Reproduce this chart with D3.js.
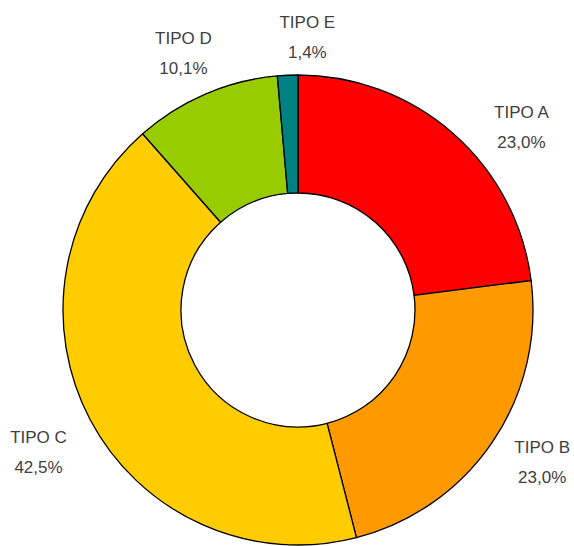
<!DOCTYPE html>
<html>
<head>
<meta charset="utf-8">
<script src="https://cdn.jsdelivr.net/npm/d3@7"></script>
<style>
  body { margin: 0; background: #fff; }
  svg { display: block; }
</style>
</head>
<body>
<div id="chart"></div>
<script>
// data
const categories = ['TIPO A', 'TIPO B', 'TIPO C', 'TIPO D', 'TIPO E'];
const values = [23.0, 23.0, 42.5, 10.1, 1.4];
const colors = ['#FF0000', '#FF9900', '#FFCC00', '#99CC00', '#008080'];

const width = 574, height = 546;
const cx = 298, cy = 310;
const outerR = 235, innerR = 117, labelR = 288;
// small nudges so the labels sit where the original put them
const labelNudge = [[33, 33], [6, -10], [-5, 7], [-1, 8], [22, 15]];

const fmt = v => d3.format('.1f')(v).replace('.', ',') + '%';

const svg = d3.select('#chart').append('svg')
  .attr('width', width)
  .attr('height', height);

const g = svg.append('g')
  .attr('transform', 'translate(' + cx + ',' + cy + ')');

const pie = d3.pie().sort(null).value(d => d.value);
const arcs = pie(categories.map((c, i) => ({ name: c, value: values[i], i })));

const arc = d3.arc().innerRadius(innerR).outerRadius(outerR);
const labelArc = d3.arc().innerRadius(labelR).outerRadius(labelR);

//Slices
g.selectAll('path.slice')
  .data(arcs)
  .enter()
  .append('path')
  .attr('class', 'slice')
  .attr('d', arc)
  .attr('fill', d => colors[d.data.i])
  .attr('stroke', '#000')
  .attr('stroke-width', 1.3)
  .attr('stroke-linejoin', 'round');

//Labels
const label = g.selectAll('text.label')
  .data(arcs)
  .enter()
  .append('text')
  .attr('class', 'label')
  .attr('text-anchor', 'middle')
  .style('font-family', '"Liberation Sans", Arial, sans-serif')
  .style('font-size', '17px')
  .attr('fill', '#404040')
  .attr('transform', d => {
    const c = labelArc.centroid(d);
    const n = labelNudge[d.data.i];
    return 'translate(' + (c[0] + n[0]) + ',' + (c[1] + n[1]) + ')';
  });

label.append('tspan')
  .attr('x', 0)
  .attr('y', -9)
  .text(d => d.data.name);

label.append('tspan')
  .attr('x', 0)
  .attr('y', 21)
  .text(d => fmt(d.data.value));
</script>
</body>
</html>
